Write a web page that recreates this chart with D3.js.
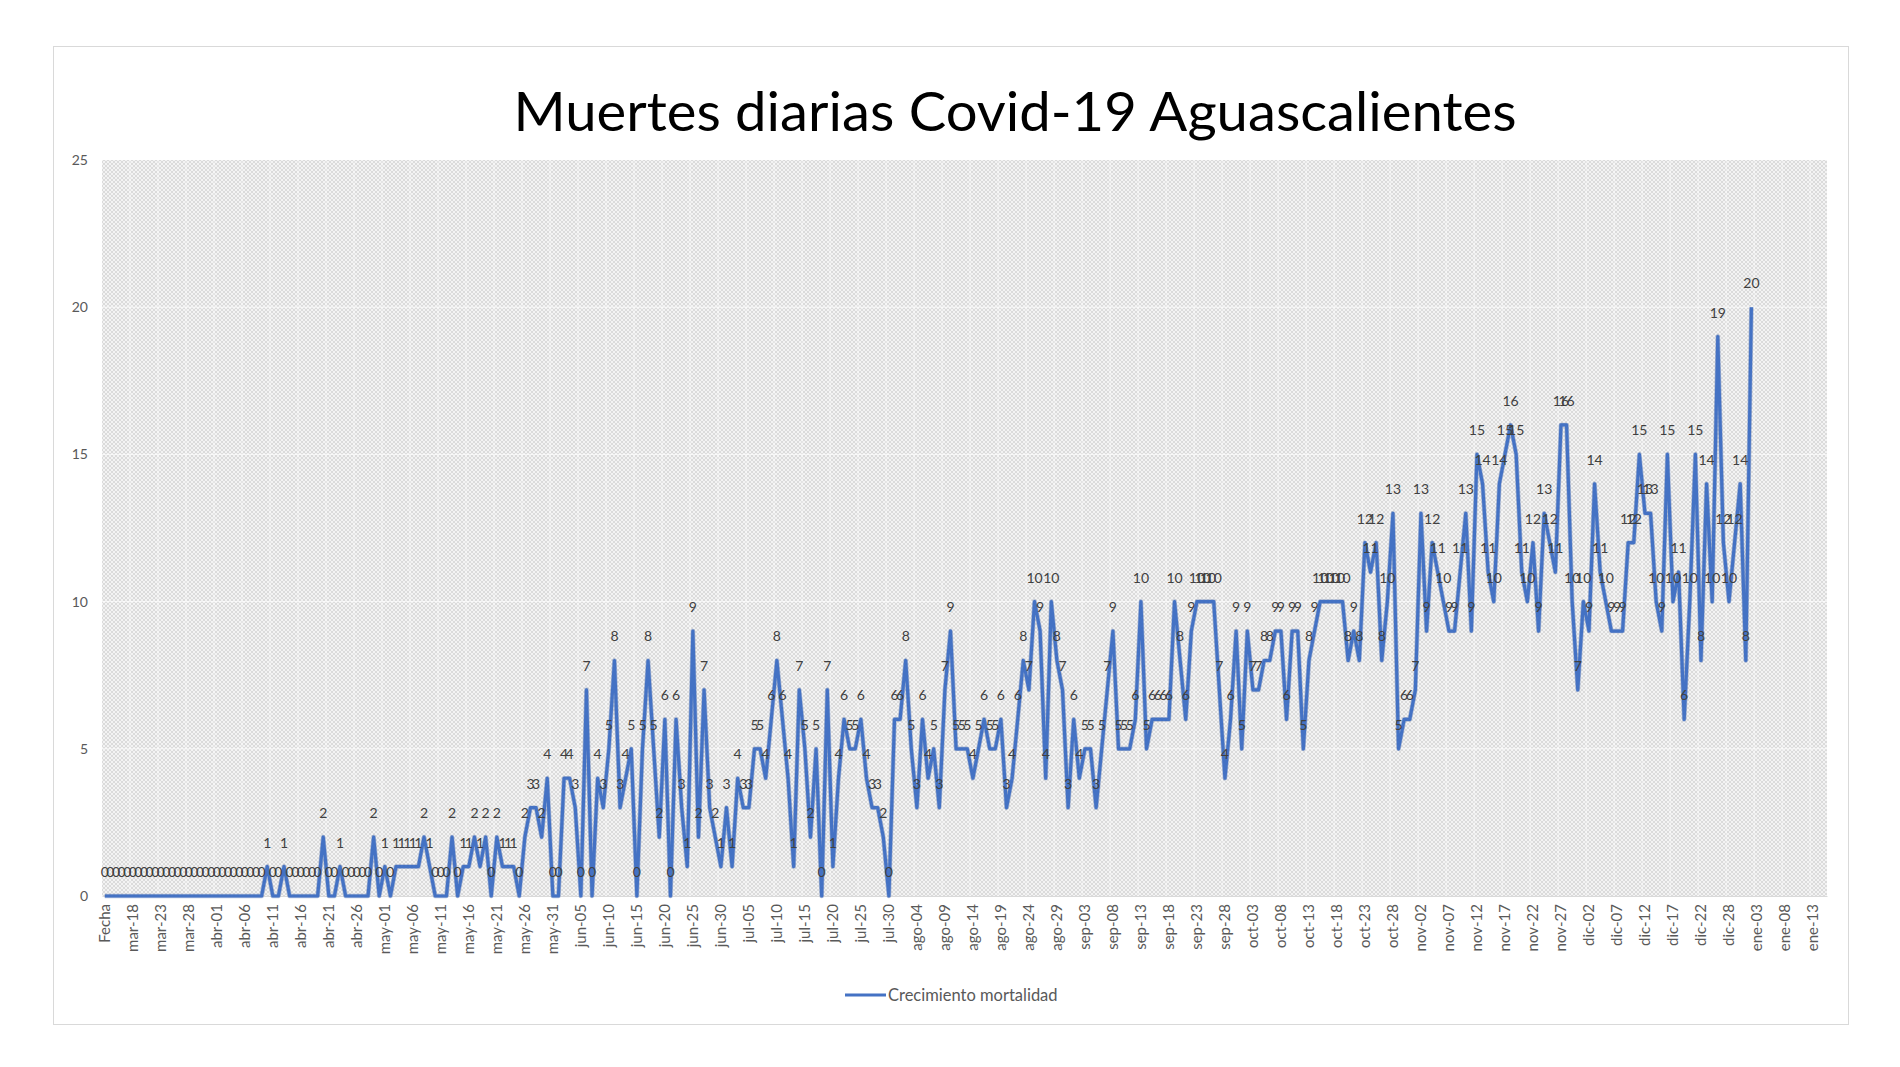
<!DOCTYPE html>
<html>
<head>
<meta charset="utf-8">
<script src="https://cdn.jsdelivr.net/npm/d3@7"></script>
<style>
  html, body { margin: 0; padding: 0; background: #ffffff; }
  svg { display: block; }
</style>
</head>
<body>
<svg id="chart" width="1900" height="1067"></svg>
<script>
// ---------------- DATA ----------------
const chartTitle = "Muertes diarias Covid-19 Aguascalientes";
const seriesName = "Crecimiento mortalidad";

// tick labels shown every 5 categories (first category is the header "Fecha")
const tickLabels = [
  "Fecha","mar-18","mar-23","mar-28","abr-01","abr-06","abr-11","abr-16","abr-21","abr-26",
  "may-01","may-06","may-11","may-16","may-21","may-26","may-31","jun-05","jun-10","jun-15",
  "jun-20","jun-25","jun-30","jul-05","jul-10","jul-15","jul-20","jul-25","jul-30","ago-04",
  "ago-09","ago-14","ago-19","ago-24","ago-29","sep-03","sep-08","sep-13","sep-18","sep-23",
  "sep-28","oct-03","oct-08","oct-13","oct-18","oct-23","oct-28","nov-02","nov-07","nov-12",
  "nov-17","nov-22","nov-27","dic-02","dic-07","dic-12","dic-17","dic-22","dic-28","ene-03",
  "ene-08","ene-13"
];
const categoryCount = 308;   // categories on the axis (incl. empty ones at the end)
const tickStep = 5;

// daily deaths, one value per category
const deaths = [
  0,0,0,0,0,   0,0,0,0,0,   0,0,0,0,0,   0,0,0,0,0,
  0,0,0,0,0,   0,0,0,0,1,   0,0,1,0,0,   0,0,0,0,2,
  0,0,1,0,0,   0,0,0,2,0,   1,0,1,1,1,   1,1,2,1,0,
  0,0,2,0,1,   1,2,1,2,0,   2,1,1,1,0,   2,3,3,2,4,
  0,0,4,4,3,   0,7,0,4,3,   5,8,3,4,5,   0,5,8,5,2,
  6,0,6,3,1,   9,2,7,3,2,   1,3,1,4,3,   3,5,5,4,6,
  8,6,4,1,7,   5,2,5,0,7,   1,4,6,5,5,   6,4,3,3,2,
  0,6,6,8,5,   3,6,4,5,3,   7,9,5,5,5,   4,5,6,5,5,
  6,3,4,6,8,   7,10,9,4,10, 8,7,3,6,4,   5,5,3,5,7,
  9,5,5,5,6,   10,5,6,6,6,  6,10,8,6,9,  10,10,10,10,7,
  4,6,9,5,9,   7,7,8,8,9,   9,6,9,9,5,   8,9,10,10,10,
  10,10,8,9,8, 12,11,12,8,10, 13,5,6,6,7, 13,9,12,11,10,
  9,9,11,13,9, 15,14,11,10,14, 15,16,15,11,10, 12,9,13,12,11,
  16,16,10,7,10, 9,14,11,10,9, 9,9,12,12,15, 13,13,10,9,15,
  10,11,6,10,15, 8,14,10,19,12, 10,12,14,8,20
];
const yTicks = [0, 5, 10, 15, 20, 25];

// ---------------- LAYOUT ----------------
const svg = d3.select("#chart");
const plot = { left: 102, right: 1827, top: 160, bottom: 896 };
const font = "Lato, 'Open Sans', 'DejaVu Sans', sans-serif";

const x = d3.scaleBand()
  .domain(d3.range(categoryCount))
  .range([plot.left, plot.right])
  .paddingInner(0).paddingOuter(0);
const cx = i => x(i) + x.bandwidth() / 2;

const y = d3.scaleLinear().domain([0, 25]).range([plot.bottom, plot.top]);

// chart border
svg.append("rect")
  .attr("x", 53.5).attr("y", 46.5).attr("width", 1795).attr("height", 978)
  .attr("fill", "#ffffff").attr("stroke", "#d9d9d9").attr("stroke-width", 1);

// crosshatch pattern for plot background
const defs = svg.append("defs");
const pat = defs.append("pattern")
  .attr("id", "hatch").attr("patternUnits", "userSpaceOnUse")
  .attr("width", 4).attr("height", 4);
pat.append("rect").attr("width", 4).attr("height", 4).attr("fill", "#f3f3f3");
pat.append("path").attr("d", "M-1,1 L1,-1 M0,4 L4,0 M3,5 L5,3")
  .attr("stroke", "#d8d8d8").attr("stroke-width", 0.9);
pat.append("path").attr("d", "M-1,3 L1,5 M0,0 L4,4 M3,-1 L5,1")
  .attr("stroke", "#d8d8d8").attr("stroke-width", 0.9);

svg.append("rect")
  .attr("x", plot.left).attr("y", plot.top)
  .attr("width", plot.right - plot.left).attr("height", plot.bottom - plot.top)
  .attr("fill", "url(#hatch)");

// vertical gridlines every tick step
const tickIdx = d3.range(0, tickLabels.length * tickStep, tickStep);
svg.append("g").selectAll("line").data(tickIdx.slice(1)).join("line")
  .attr("x1", d => x(d)).attr("x2", d => x(d))
  .attr("y1", plot.top).attr("y2", plot.bottom)
  .attr("stroke", "#ffffff").attr("stroke-opacity", 0.55).attr("stroke-width", 1);

// horizontal gridlines
svg.append("g").selectAll("line").data(yTicks.slice(1, -1)).join("line")
  .attr("x1", plot.left).attr("x2", plot.right)
  .attr("y1", d => y(d)).attr("y2", d => y(d))
  .attr("stroke", "#ffffff").attr("stroke-opacity", 0.7).attr("stroke-width", 1);

// Y axis
const yAxis = d3.axisLeft(y).tickValues(yTicks).tickSize(0).tickPadding(0);
const gy = svg.append("g").attr("transform", `translate(${plot.left - 14},0)`).call(yAxis);
gy.select(".domain").remove();
gy.selectAll("text")
  .attr("font-family", font).attr("font-size", 14).attr("fill", "#595959");

// X axis
const xAxis = d3.axisBottom(x)
  .tickValues(tickIdx)
  .tickFormat(d => tickLabels[d / tickStep])
  .tickSize(0);
const gx = svg.append("g").attr("transform", `translate(0,${plot.bottom})`).call(xAxis);
gx.select(".domain").attr("stroke", "#d9d9d9");
gx.selectAll("text")
  .attr("font-family", font).attr("font-size", 15).attr("fill", "#595959")
  .attr("text-anchor", "end")
  .attr("transform", "rotate(-90)")
  .attr("x", -8).attr("y", 0).attr("dy", "0.35em");

// line
const line = d3.line().x((d, i) => cx(i)).y(d => y(d));
svg.append("path").datum(deaths)
  .attr("fill", "none").attr("stroke", "#2f55a4").attr("stroke-opacity", 0.35)
  .attr("stroke-width", 4.6).attr("stroke-linejoin", "round")
  .attr("d", line);
svg.append("path").datum(deaths)
  .attr("fill", "none").attr("stroke", "#4472c4")
  .attr("stroke-width", 3.2).attr("stroke-linejoin", "round")
  .attr("d", line);

// data labels
svg.append("g").selectAll("text").data(deaths).join("text")
  .attr("x", (d, i) => cx(i))
  .attr("y", d => y(d) - 19)
  .attr("text-anchor", "middle")
  .attr("font-family", font).attr("font-size", 14).attr("fill", "#404040")
  .text(d => d);

// title
const title = svg.append("text")
  .attr("x", 1015).attr("y", 131)
  .attr("text-anchor", "middle")
  .attr("font-family", font).attr("font-size", 54).attr("fill", "#000000")
  .text(chartTitle);
const tw = title.node().getComputedTextLength();
if (Math.abs(tw - 1003) / 1003 > 0.02) {
  title.attr("textLength", 1003).attr("lengthAdjust", "spacingAndGlyphs");
}

// legend
svg.append("line")
  .attr("x1", 845).attr("x2", 886).attr("y1", 995).attr("y2", 995)
  .attr("stroke", "#4472c4").attr("stroke-width", 3);
svg.append("text")
  .attr("x", 888).attr("y", 1001)
  .attr("font-family", font).attr("font-size", 16.5).attr("fill", "#595959")
  .text(seriesName);
</script>
</body>
</html>
